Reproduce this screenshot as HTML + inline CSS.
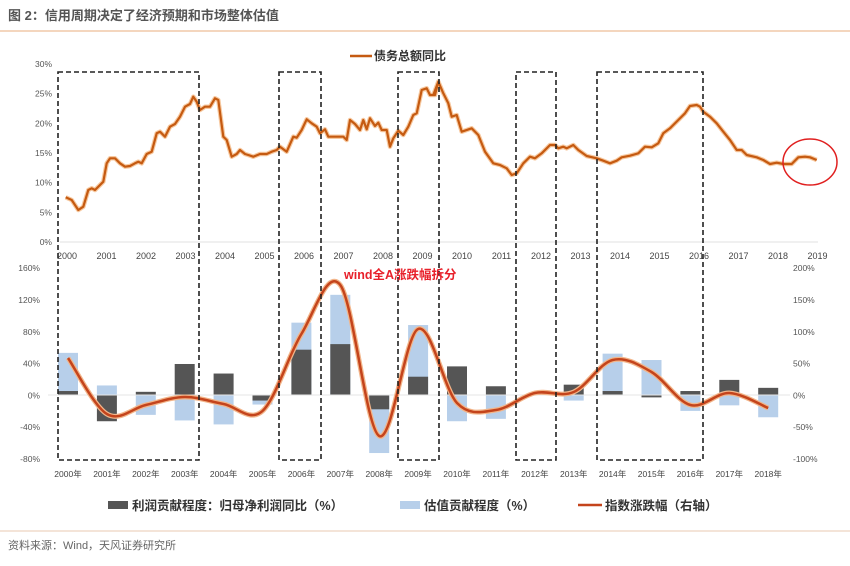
<!DOCTYPE html>
<html><head><meta charset="utf-8"><style>
body{margin:0;background:#fff;width:850px;height:561px;overflow:hidden;font-family:"Liberation Sans","Noto Sans CJK SC",sans-serif}
svg text{font-family:"Liberation Sans","Noto Sans CJK SC",sans-serif}
</style></head><body>
<svg id="s" width="850" height="561" xmlns="http://www.w3.org/2000/svg">
<text x="8" y="20" font-size="13" fill="#555" font-weight="bold">图 2：信用周期决定了经济预期和市场整体估值</text>
<line x1="0" y1="31" x2="850" y2="31" stroke="#f0c8a8" stroke-width="1.5"/>
<line x1="0" y1="531" x2="850" y2="531" stroke="#f0dccb" stroke-width="1.5"/>
<text x="8" y="549" font-size="11" fill="#666">资料来源：Wind，天风证券研究所</text>
<g id="g"></g>
</svg>
<script>
var g=document.getElementById('g'),h='';
// top axis
var tl=['0%','5%','10%','15%','20%','25%','30%'];
for(var i=0;i<7;i++){var y=242-i*29.67;h+='<text x="52" y="'+(y+3)+'" font-size="8.5" fill="#555" text-anchor="end">'+tl[i]+'</text>';}
h+='<line x1="60" y1="242" x2="818" y2="242" stroke="#e0e0e0"/>';
for(var i=0;i<20;i++){h+='<text x="'+(67+i*39.5)+'" y="259" font-size="9" fill="#444" text-anchor="middle">'+(2000+i)+'</text>';}
h+='<line x1="350" y1="56" x2="372" y2="56" stroke="#c55a11" stroke-width="2.5"/><text x="374" y="60" font-size="12" font-weight="bold" fill="#333">债务总额同比</text>';
// top line
var a=[[197,592],[215,600],[235,630],[250,620],[265,570],[275,565],[285,570],[300,555],[310,545],[320,490],[330,475],[345,475],[360,490],[375,500],[390,498],[405,490],[415,485],[425,490],[440,462],[455,455],[470,400],[480,395],[495,410],[510,380],[525,372],[540,350],[555,320],[570,312],[580,290],[590,305],[600,330],[615,320],[630,320],[645,295],[655,300],[670,410],[680,420],[695,470],[710,462],[720,450],[735,462],[745,465],[760,470],[780,462],[800,462],[815,455],[830,450],[840,440],[860,455],[880,410],[890,413],[905,390],[920,358],[935,370],[950,380],[960,400],[975,388],[985,410],[1000,410],[1030,410],[1040,420],[1050,360],[1065,372],[1080,390],[1090,360],[1100,388],[1110,355],[1125,378],[1135,368],[1145,390],[1160,390],[1170,440],[1180,415],[1195,392],[1210,405],[1225,380],[1240,345],[1250,340],[1265,270],[1280,265],[1290,285],[1305,285],[1315,245]];
var b=[[10,165],[25,125],[40,160],[55,190],[65,230],[80,225],[95,275],[125,265],[145,285],[165,335],[190,370],[210,375],[230,385],[245,405],[260,400],[280,370],[300,350],[315,355],[335,340],[350,325],[360,315],[375,315],[385,325],[400,320],[410,325],[430,315],[445,330],[470,348],[500,355],[520,362],[540,370],[560,362],[575,352],[600,347],[625,340],[645,320],[665,322],[685,310],[700,280],[720,265],[745,240],[765,220],[780,198],[800,195],[810,200],[820,215],[840,230],[860,250],[880,275],[900,300],[920,330],[935,330],[950,345],[980,352],[1000,360],[1020,372],[1040,368],[1060,372],[1085,372],[1105,352],[1125,350],[1140,352],[1160,360]];
var p=[];a.forEach(function(q){p.push((q[0]/3).toFixed(1)+','+(q[1]/3).toFixed(1));});
b.forEach(function(q){p.push((430+q[0]/3).toFixed(1)+','+(40+q[1]/3).toFixed(1));});
h+='<polyline points="'+p.join(' ')+'" fill="none" stroke="#f7c9a0" stroke-width="4.5" stroke-linejoin="round"/>';
h+='<polyline points="'+p.join(' ')+'" fill="none" stroke="#c55a11" stroke-width="2.2" stroke-linejoin="round"/>';
h+='<ellipse cx="810" cy="162" rx="27" ry="23" fill="none" stroke="#e02020" stroke-width="1.5"/>';
// bottom axes
var L=['-80%','-40%','0%','40%','80%','120%','160%'],R=['-100%','-50%','0%','50%','100%','150%','200%'];
for(var i=0;i<7;i++){var y=459-i*31.8;h+='<text x="40" y="'+(y+3)+'" font-size="8.5" fill="#555" text-anchor="end">'+L[i]+'</text><text x="793" y="'+(y+3)+'" font-size="8.5" fill="#555">'+R[i]+'</text>';}
var d=[[5,53],[-33,12],[4,-25],[39,-32],[27,-37],[-7,-12],[57,91],[64,126],[-18,-73],[23,88],[36,-33],[11,-30],[0,0],[13,-7],[5,52],[-3,44],[5,-20],[19,-13],[9,-28]];
var k=0.795,z=395;
for(var i=0;i<19;i++){var cx=68+i*38.9;
var dv=d[i][0],lv=d[i][1];
if(lv!=0){var y0=lv>0?z-lv*k:z,hh=Math.abs(lv)*k;h+='<rect x="'+(cx-10)+'" y="'+y0+'" width="20" height="'+hh+'" fill="#b7cfea"/>';}
if(dv!=0){var y0=dv>0?z-dv*k:z,hh=Math.abs(dv)*k;h+='<rect x="'+(cx-10)+'" y="'+y0+'" width="20" height="'+hh+'" fill="#555"/>';}
h+='<text x="'+cx+'" y="477" font-size="8.5" fill="#444" text-anchor="middle">'+(2000+i)+'年</text>';}
h+='<line x1="48" y1="395" x2="790" y2="395" stroke="#e6e6e6"/>';
var ly=[358,414,405,397,404,411,334,285,436,329,403,410,393,392,360,372,405,393,408];
var P=ly.map(function(y,i){return[68+i*38.9,y]});
var s='M'+P[0][0]+','+P[0][1];
for(var i=0;i<P.length-1;i++){var p0=P[Math.max(0,i-1)],p1=P[i],p2=P[i+1],p3=P[Math.min(P.length-1,i+2)];
s+=' C'+(p1[0]+(p2[0]-p0[0])/6)+','+(p1[1]+(p2[1]-p0[1])/6)+' '+(p2[0]-(p3[0]-p1[0])/6)+','+(p2[1]-(p3[1]-p1[1])/6)+' '+p2[0]+','+p2[1];}
h+='<path d="'+s+'" fill="none" stroke="#f2b58a" stroke-width="5"/><path d="'+s+'" fill="none" stroke="#c4441c" stroke-width="2.5"/>';
// dashed boxes
[[58,199],[279,321],[398,439],[516,556],[597,703]].forEach(function(q){h+='<rect x="'+q[0]+'" y="72" width="'+(q[1]-q[0])+'" height="388" fill="none" stroke="#222" stroke-width="1.6" stroke-dasharray="5,3"/>';});
h+='<text x="344" y="279" font-size="12.5" font-weight="bold" fill="#e8202a">wind全A涨跌幅拆分</text>';
// legend
h+='<rect x="108" y="501" width="20" height="8" fill="#555"/><text x="132" y="510" font-size="12.5" font-weight="bold" fill="#333">利润贡献程度：归母净利润同比（%）</text>';
h+='<rect x="400" y="501" width="20" height="8" fill="#b7cfea"/><text x="424" y="510" font-size="12.5" font-weight="bold" fill="#333">估值贡献程度（%）</text>';
h+='<line x1="578" y1="505" x2="602" y2="505" stroke="#c4441c" stroke-width="2.5"/><text x="605" y="510" font-size="12.5" font-weight="bold" fill="#333">指数涨跌幅（右轴）</text>';
g.innerHTML=h;
</script>
</body></html>
